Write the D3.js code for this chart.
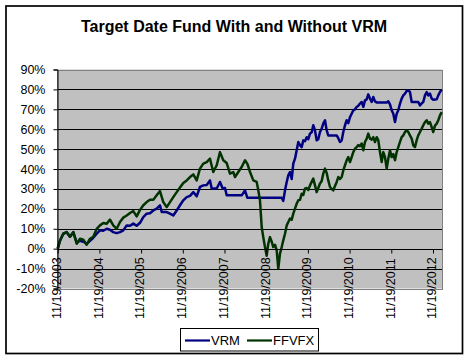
<!DOCTYPE html>
<html><head><meta charset="utf-8">
<script src="https://cdn.jsdelivr.net/npm/d3@7"></script>
<style>body{margin:0;background:#fff}svg{display:block}text{font-family:"Liberation Sans",Arial,sans-serif}</style>
</head><body>
<script>
// Data (x = years since 11/19/2003, values = cumulative return in %)
const tickYears = [0,1,2,3,4,5,6,7,8,9];
const tickLabels = ["11/19/2003","11/19/2004","11/19/2005","11/19/2006","11/19/2007","11/19/2008","11/19/2009","11/19/2010","11/19/2011","11/19/2012"];
const yTicks = [-20,-10,0,10,20,30,40,50,60,70,80,90];
const seriesNames = ["VRM","FFVFX"];
const seriesColors = ["#000080","#003300"];

const vrmT = [0,0.055,0.134,0.216,0.295,0.374,0.456,0.535,0.614,0.695,0.775,0.854,0.935,1.014,1.094,1.175,1.254,1.333,1.415,1.494,1.573,1.655,1.734,1.813,1.894,1.974,2.053,2.134,2.213,2.293,2.374,2.453,2.494,2.614,2.693,2.772,2.854,2.933,3.012,3.094,3.173,3.252,3.333,3.412,3.492,3.573,3.652,3.693,3.813,3.892,3.957,4.012,4.053,4.412,4.492,4.547,5.372,5.410,5.451,5.492,5.530,5.571,5.612,5.650,5.691,5.731,5.770,5.811,5.851,5.890,5.930,5.971,6.010,6.050,6.091,6.129,6.170,6.211,6.249,6.290,6.331,6.369,6.410,6.451,6.489,6.691,6.729,6.770,6.811,6.849,6.890,6.930,6.969,7.010,7.050,7.089,7.129,7.170,7.209,7.249,7.290,7.329,7.369,7.410,7.448,7.489,7.530,7.568,7.609,7.650,7.890,7.928,7.969,8.010,8.048,8.089,8.129,8.168,8.209,8.249,8.288,8.329,8.369,8.408,8.448,8.489,8.647,8.688,8.729,8.767,8.808,8.849,8.887,8.928,8.969,9.007,9.089,9.127,9.168,9.209];
const vrmV = [0,4,7.5,8.3,6,8.3,3,4,3.5,2.5,4,5.5,7.5,9.2,9,10,9.5,8.3,7.8,8.3,9.2,11.7,11.5,12.6,11.5,13,15.9,17.6,17.8,19.2,20.1,21.8,18.4,18.4,17.6,16.7,19.2,21.8,24.3,25.9,26.5,28.4,26.3,31,31.8,32,34.3,30.2,30.2,33.5,30.2,30.5,26.8,26.8,29.3,25.6,25.6,24,29.3,33.5,36.8,38.5,35,42.7,45.2,49.4,53.6,52,51,54.4,54,56,55,57.8,58.5,62,59.4,54.4,55,58.6,60.3,62.8,64.5,59.4,56.9,56.9,55.5,53.6,54.4,58.6,62,64.5,63,66.1,67.8,69.5,70,71.2,71.8,72.9,73.7,71.2,74.5,75,77.5,75.4,73.7,76.2,74,73.4,73.4,74,72.5,69.5,67.8,63.6,67.8,69.5,72.9,75.4,77,77.9,79.2,79.5,78.7,73.7,73.7,72,73,73.7,77,78.7,77,77.9,75.4,74.8,75,77,78.7,79.9];

const ffvfxT = [0,0.055,0.134,0.216,0.295,0.374,0.456,0.535,0.614,0.695,0.775,0.854,0.935,1.014,1.094,1.175,1.254,1.333,1.415,1.494,1.573,1.655,1.734,1.813,1.894,1.974,2.053,2.134,2.213,2.293,2.374,2.453,2.532,2.614,2.693,2.772,2.854,2.933,3.012,3.094,3.173,3.252,3.333,3.412,3.492,3.573,3.652,3.731,3.813,3.892,3.971,4.053,4.132,4.211,4.252,4.331,4.412,4.492,4.552,4.612,4.691,4.772,4.811,4.851,4.892,4.930,4.971,5.012,5.050,5.091,5.132,5.170,5.211,5.252,5.290,5.331,5.372,5.410,5.451,5.492,5.530,5.571,5.612,5.650,5.691,5.731,5.770,5.811,5.851,5.890,5.930,5.971,6.010,6.050,6.129,6.170,6.211,6.249,6.290,6.331,6.369,6.410,6.451,6.489,6.530,6.571,6.609,6.650,6.691,6.729,6.770,6.811,6.849,6.890,6.930,6.969,7.010,7.050,7.089,7.129,7.170,7.209,7.249,7.290,7.329,7.369,7.410,7.448,7.489,7.530,7.568,7.609,7.650,7.688,7.729,7.770,7.808,7.849,7.890,7.928,7.969,8.010,8.048,8.089,8.129,8.168,8.209,8.249,8.288,8.329,8.369,8.408,8.448,8.489,8.528,8.568,8.609,8.647,8.688,8.729,8.767,8.808,8.849,8.887,8.928,8.969,9.007,9.048,9.089,9.127,9.168,9.209];
const ffvfxV = [0,4,7.5,8.3,6,8.3,2.5,5,4.5,2,5,6,10,11.7,12.9,12.5,14.6,11.7,10,13.4,15.6,16.7,17.9,18.9,16.2,19.5,21.8,23.4,24.6,24.6,26.8,28.9,23.4,20.9,23.4,25.9,28.4,30.7,33,34.3,36,37.3,34.3,40.2,42.7,43.5,45.2,38.5,41.9,48.5,44.4,43,37.7,38.5,36,38.5,41,44.4,42.5,38.5,34.3,33.5,29.3,24.3,10.9,5.8,0.8,-3.5,2.5,5.8,3.5,0.8,2,-0.9,-10,-2.5,0.8,4.2,7.5,11.7,13.4,15.1,14.5,17.6,20.1,22.6,24.3,24.5,27.6,27,30.1,30.5,29.5,31.8,35.2,31.8,28.4,30.5,32.7,34,37.7,40.2,38,34.3,31,30,29.3,31.5,33.5,36,35,36,39.3,41.9,44.4,46,43.5,46,48.5,50.2,51,52,51.5,52.8,49.4,53.6,55.3,57.8,55.3,54.8,56,53.6,56,54.5,48.5,43.5,48.5,46,40.2,45.2,49.4,46,47.5,44.4,48.5,51,53.6,56,56.9,58.6,59.4,58.6,56.9,55.3,51.9,51,54.5,56.9,58.6,60.3,62,63.6,64.5,62.8,63.6,61.1,58.6,61.8,62.8,64.5,67,68.6];

const W = 469, H = 361;
const svg = d3.select("body").append("svg").attr("width", W).attr("height", H);

// outer frame
svg.append("rect").attr("x", 6).attr("y", 6).attr("width", 456.5).attr("height", 347.5)
  .attr("fill", "#fff").attr("stroke", "#000").attr("stroke-width", 1.7);

// title
svg.append("text").attr("x", 234).attr("y", 31.5).attr("text-anchor", "middle")
  .attr("font-size", "16px").attr("font-weight", "bold").text("Target Date Fund With and Without VRM");

const px0 = 57.5, px1 = 442.5;
const x = d3.scaleLinear().domain([0, 9.233]).range([57.7, 442.7]);
const y = d3.scaleLinear().domain([-20, 90]).range([288.5, 69.5]);

// plot area
svg.append("rect").attr("x", px0).attr("y", y(90)).attr("width", px1 - px0).attr("height", y(-20) - y(90))
  .attr("fill", "#c0c0c0");

// gridlines
svg.append("g").selectAll("line").data(yTicks.filter(d => d > -20 && d < 90)).join("line")
  .attr("x1", px0).attr("x2", px1)
  .attr("y1", d => Math.round(y(d)) + 0.5).attr("y2", d => Math.round(y(d)) + 0.5)
  .attr("stroke", "#000").attr("stroke-width", 1);

svg.append("rect").attr("x", px0).attr("y", Math.round(y(90)) + 0.5).attr("width", px1 - px0)
  .attr("height", Math.round(y(-20)) - Math.round(y(90)))
  .attr("fill", "none").attr("stroke", "#808080").attr("stroke-width", 1);

// lines
const line = d3.line().x(d => x(d[0])).y(d => y(d[1]));
const vrm = vrmT.map((t, i) => [t, vrmV[i]]);
const ffvfx = ffvfxT.map((t, i) => [t, ffvfxV[i]]);
svg.append("path").datum(vrm).attr("d", line).attr("fill", "none")
  .attr("stroke", seriesColors[0]).attr("stroke-width", 2.5).attr("stroke-linejoin", "round");
svg.append("path").datum(ffvfx).attr("d", line).attr("fill", "none")
  .attr("stroke", seriesColors[1]).attr("stroke-width", 2.5).attr("stroke-linejoin", "round");

// y axis
const yAxis = d3.axisLeft(y).tickValues(yTicks).tickSize(4).tickPadding(8)
  .tickFormat(d => d + "%");
const gy = svg.append("g").attr("transform", `translate(${px0},0)`).call(yAxis);
gy.select(".domain").attr("stroke", "#000");
gy.selectAll(".tick line").attr("stroke", "#000");
gy.selectAll(".tick text").attr("font-size", "12.5px").attr("fill", "#000")
  .attr("font-family", "Liberation Sans, Arial, sans-serif");

// x axis at 0%
const xAxis = d3.axisBottom(x).tickValues(tickYears).tickSize(4).tickFormat("");
const gx = svg.append("g").attr("transform", `translate(0,${Math.round(y(0)) + 0.5})`).call(xAxis);
gx.select(".domain").attr("stroke", "#000").attr("d", `M${px0},0H${px1}`);
gx.selectAll(".tick line").attr("stroke", "#000");

// x labels (rotated)
svg.append("g").selectAll("text").data(tickYears).join("text")
  .attr("transform", d => `translate(${x(d) - 1},319) rotate(-90)`)
  .attr("dy", "0.35em").attr("text-anchor", "start")
  .attr("font-size", "12.5px").attr("fill", "#000")
  .text((d, i) => tickLabels[i]);

// legend
svg.append("rect").attr("x", 180.5).attr("y", 328.5).attr("width", 138).attr("height", 22.5)
  .attr("fill", "#fff").attr("stroke", "#000").attr("stroke-width", 1);
const legX = [185, 247];
seriesNames.forEach((n, i) => {
  svg.append("line").attr("x1", legX[i]).attr("x2", legX[i] + 25).attr("y1", 340.5).attr("y2", 340.5)
    .attr("stroke", seriesColors[i]).attr("stroke-width", 2.2);
  svg.append("text").attr("x", legX[i] + 26).attr("y", 344.5).attr("font-size", "13px").text(n);
});
</script>
</body></html>
